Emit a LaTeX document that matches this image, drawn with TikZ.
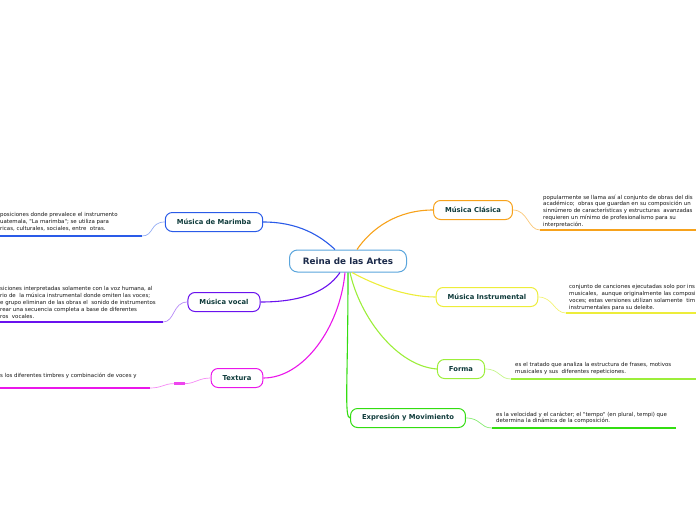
\documentclass[tikz,border=0pt]{standalone}
\usepackage{fontspec}
\setmainfont{DejaVu Sans}
\newfontfamily\notefont{DejaVu Sans}
\usetikzlibrary{positioning}

\definecolor{rootline}{HTML}{5AA5DC}
\definecolor{roottext}{HTML}{1B2A4A}
\definecolor{labeltext}{HTML}{0F3B3B}
\definecolor{notetext}{HTML}{141414}
\definecolor{cOrange}{HTML}{F7A21B}
\definecolor{cYellow}{HTML}{EDED3A}
\definecolor{cLime}{HTML}{9CEE3A}
\definecolor{cGreen}{HTML}{33DD11}
\definecolor{cBlue}{HTML}{2A5BE8}
\definecolor{cPurple}{HTML}{6A12EE}
\definecolor{cMagenta}{HTML}{EA16EA}

\tikzstyle{root} = [
    rectangle,
    rounded corners=8pt,
    minimum width=117pt,
    minimum height=22pt,
    draw=rootline,
    line width=1pt,
    fill=white,
    text=roottext,
    font=\fontsize{8.8}{10}\selectfont\bfseries
]
\tikzstyle{branch} = [
    rectangle,
    rounded corners=7pt,
    minimum height=19pt,
    inner xsep=11.5pt,
    line width=1pt,
    fill=white,
    text=labeltext,
    font=\fontsize{6.8}{8}\selectfont\bfseries
]
\tikzstyle{note} = [
    inner sep=0pt,
    align=left,
    text=notetext,
    font=\notefont\fontsize{5.45}{6.9}\selectfont
]
\tikzstyle{link} = [line width=1.1pt]
\tikzstyle{tail} = [line width=0.7pt]
\tikzstyle{rule} = [line width=1.4pt]

\begin{document}
\begin{tikzpicture}[x=1pt, y=-1pt]

\useasboundingbox (0,0) rectangle (696,520);
\clip (0,0) rectangle (696,520);

% central topic
\node (root) [root] at (348,261) {Reina de las Artes};

% main branches
\node (clasica) [branch, draw=cOrange] at (473,210) {Música Clásica};
\node (instrumental) [branch, draw=cYellow] at (487,297) {Música Instrumental};
\node (forma) [branch, draw=cLime] at (461,369) {Forma};
\node (expresion) [branch, draw=cGreen] at (408,418) {Expresión y Movimiento};
\node (marimba) [branch, draw=cBlue] at (214,222) {Música de Marimba};
\node (vocal) [branch, draw=cPurple] at (224,302) {Música vocal};
\node (textura) [branch, draw=cMagenta] at (237,378) {Textura};

% notes
\node (clasicaNote) [note, anchor=north west] at (543,194.5)
{popularmente se llama así al conjunto de obras del dis\\
académico;~ obras que guardan en su composición un\\
sinnúmero de características y estructuras~ avanzadas\\
requieren un mínimo de profesionalismo para su\\
interpretación.};

\node (instrumentalNote) [note, anchor=north west] at (569,284.5)
{conjunto de canciones ejecutadas solo por ins\\
musicales,~ aunque originalmente las composi\\
voces; estas versiones utilizan solamente~ tim\\
instrumentales para su deleite.};

\node (formaNote) [note, anchor=north west] at (515,362.5)
{es el tratado que analiza la estructura de frases, motivos\\
musicales y sus~ diferentes repeticiones.};

\node (expresionNote) [note, anchor=north west] at (496,411.5)
{es la velocidad y el carácter; el "tempo" (en plural, tempi) que\\
determina la dinámica de la composición.};

\node (marimbaNote) [note, anchor=north west] at (0,212.5)
{posiciones donde prevalece el instrumento\\
uatemala, "La marimba"; se utiliza para\\
ricas, culturales, sociales, entre~ otras.};

\node (vocalNote) [note, anchor=north west] at (0,286.5)
{siciones interpretadas solamente con la voz humana, al\\
rio de~ la música instrumental donde omiten las voces;\\
e grupo eliminan de las obras el~ sonido de instrumentos\\
rear una secuencia completa a base de diferentes\\
ros~ vocales.};

\node (texturaNote) [note, anchor=north west] at (0,372.5)
{s los diferentes timbres y combinación de voces y};

% underline ends
\coordinate (clasicaA) at (540,230);
\coordinate (clasicaB) at (700,230);
\coordinate (instrumentalA) at (566,313);
\coordinate (instrumentalB) at (700,313);
\coordinate (formaA) at (511,379);
\coordinate (formaB) at (700,379);
\coordinate (expresionA) at (492,428);
\coordinate (expresionB) at (676,428);
\coordinate (marimbaA) at (142,236);
\coordinate (marimbaB) at (-5,236);
\coordinate (vocalA) at (163,322);
\coordinate (vocalB) at (-5,322);
\coordinate (texturaA) at (150,388);
\coordinate (texturaB) at (-5,388);
\coordinate (texturaKnotA) at (174,383.6);
\coordinate (texturaKnotB) at (185,383.6);

% root to branches
\draw [link, cBlue] ([xshift=-13pt]root.north) .. controls +(-15,-14) and +(35,0) .. (marimba.east);
\draw [link, cOrange] ([xshift=9pt]root.north) .. controls +(15,-22) and +(-35,0) .. (clasica.west);
\draw [link, cYellow] ([xshift=4pt]root.south) .. controls +(22,12) and +(-30,0) .. (instrumental.west);
\draw [link, cLime] ([xshift=2pt]root.south) .. controls +(10,45) and +(-40,-3) .. (forma.west);
\draw [link, cGreen] (root.south) .. controls +(0,110) and +(-6,0) .. (expresion.west);
\draw [link, cMagenta] ([xshift=-3pt]root.south) .. controls +(-5,55) and +(40,0) .. (textura.east);
\draw [link, cPurple] ([xshift=-8pt]root.south) .. controls +(-15,22) and +(35,0) .. (vocal.east);

% branches to notes
\draw [tail, cOrange!60] (clasica.east) .. controls +(15,0) and +(-12,0) .. (clasicaA);
\draw [rule, cOrange] (clasicaA) -- (clasicaB);
\draw [tail, cYellow!70] (instrumental.east) .. controls +(15,0) and +(-12,0) .. (instrumentalA);
\draw [rule, cYellow] (instrumentalA) -- (instrumentalB);
\draw [tail, cLime!60] (forma.east) .. controls +(15,0) and +(-12,0) .. (formaA);
\draw [rule, cLime] (formaA) -- (formaB);
\draw [tail, cGreen!60] (expresion.east) .. controls +(15,0) and +(-12,0) .. (expresionA);
\draw [rule, cGreen] (expresionA) -- (expresionB);
\draw [tail, cBlue!50] (marimba.west) .. controls +(-15,0) and +(12,0) .. (marimbaA);
\draw [rule, cBlue] (marimbaA) -- (marimbaB);
\draw [tail, cPurple!50] (vocal.west) .. controls +(-15,0) and +(12,0) .. (vocalA);
\draw [rule, cPurple] (vocalA) -- (vocalB);
\draw [tail, cMagenta!50] (textura.west) .. controls +(-12,0) and +(10,0) .. (texturaKnotB);
\draw [line width=2.4pt, cMagenta!80] (texturaKnotB) -- (texturaKnotA);
\draw [tail, cMagenta!50] (texturaKnotA) .. controls +(-10,0) and +(12,0) .. (texturaA);
\draw [rule, cMagenta] (texturaA) -- (texturaB);

\end{tikzpicture}
\end{document}
